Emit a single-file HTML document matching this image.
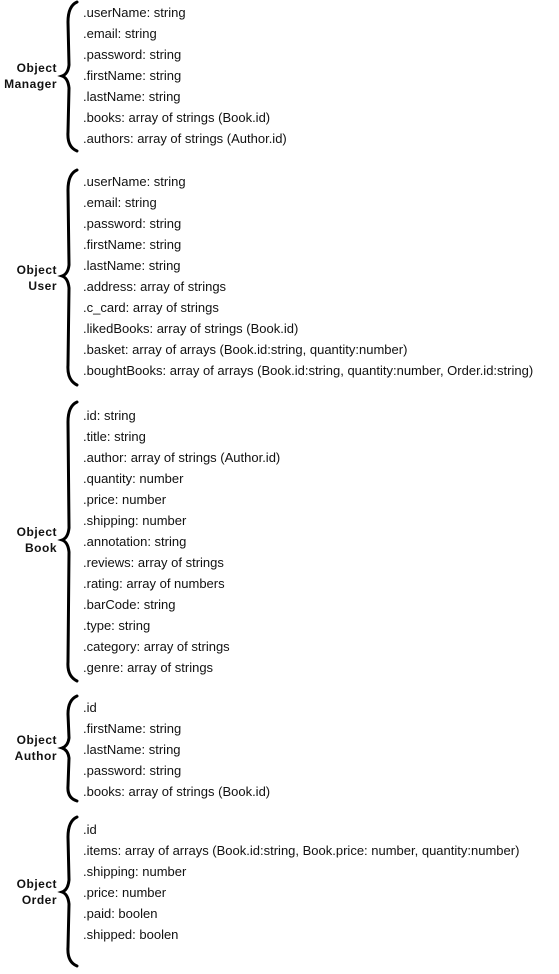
<!DOCTYPE html>
<html><head><style>
body{margin:0;background:#fff;width:559px;height:969px;overflow:hidden}
svg text{font-family:"Liberation Sans",sans-serif;font-size:13px;fill:#111}
.l{font-weight:bold;text-anchor:end;letter-spacing:0.5px;font-size:12px}
</style></head><body>
<svg width="559" height="969" xmlns="http://www.w3.org/2000/svg">
<g fill="none" stroke="#000" stroke-width="3" stroke-linecap="round">
<path d="M77,2 Q68,6 68,22 L69,65 Q68,74 62,76 Q68,78 69,88 L68,132 Q67,147 77,151"/>
<path d="M77,170 Q68,174 68,190 L69,265 Q68,274 62,276 Q68,278 69,288 L68,365 Q67,380 77,385"/>
<path d="M77,402 Q68,406 68,422 L69,528 Q68,538 62,540 Q68,542 69,552 L68,662 Q67,676 77,681"/>
<path d="M77,696 Q68,700 68,714 L69,738 Q68,746 62,748 Q68,750 69,758 L68,786 Q67,798 77,801"/>
<path d="M77,817 Q68,821 68,837 L69,880 Q68,890 62,892 Q68,894 69,904 L68,947 Q67,962 77,966"/>
</g>
<text class="l" x="57" y="72">Object</text><text class="l" x="57" y="88">Manager</text>
<text class="l" x="57" y="274">Object</text><text class="l" x="57" y="290">User</text>
<text class="l" x="57" y="536">Object</text><text class="l" x="57" y="552">Book</text>
<text class="l" x="57" y="744">Object</text><text class="l" x="57" y="760">Author</text>
<text class="l" x="57" y="888">Object</text><text class="l" x="57" y="904">Order</text>
<g>
<text x="83" y="17">.userName: string</text>
<text x="83" y="38">.email: string</text>
<text x="83" y="59">.password: string</text>
<text x="83" y="80">.firstName: string</text>
<text x="83" y="101">.lastName: string</text>
<text x="83" y="122">.books: array of strings (Book.id)</text>
<text x="83" y="143">.authors: array of strings (Author.id)</text>

<text x="83" y="186">.userName: string</text>
<text x="83" y="207">.email: string</text>
<text x="83" y="228">.password: string</text>
<text x="83" y="249">.firstName: string</text>
<text x="83" y="270">.lastName: string</text>
<text x="83" y="291">.address: array of strings</text>
<text x="83" y="312">.c_card: array of strings</text>
<text x="83" y="333">.likedBooks: array of strings (Book.id)</text>
<text x="83" y="354">.basket: array of arrays (Book.id:string, quantity:number)</text>
<text x="83" y="375">.boughtBooks: array of arrays (Book.id:string, quantity:number, Order.id:string)</text>

<text x="83" y="420">.id: string</text>
<text x="83" y="441">.title: string</text>
<text x="83" y="462">.author: array of strings (Author.id)</text>
<text x="83" y="483">.quantity: number</text>
<text x="83" y="504">.price: number</text>
<text x="83" y="525">.shipping: number</text>
<text x="83" y="546">.annotation: string</text>
<text x="83" y="567">.reviews: array of strings</text>
<text x="83" y="588">.rating: array of numbers</text>
<text x="83" y="609">.barCode: string</text>
<text x="83" y="630">.type: string</text>
<text x="83" y="651">.category: array of strings</text>
<text x="83" y="672">.genre: array of strings</text>

<text x="83" y="712">.id</text>
<text x="83" y="733">.firstName: string</text>
<text x="83" y="754">.lastName: string</text>
<text x="83" y="775">.password: string</text>
<text x="83" y="796">.books: array of strings (Book.id)</text>

<text x="83" y="834">.id</text>
<text x="83" y="855">.items: array of arrays (Book.id:string, Book.price: number, quantity:number)</text>
<text x="83" y="876">.shipping: number</text>
<text x="83" y="897">.price: number</text>
<text x="83" y="918">.paid: boolen</text>
<text x="83" y="939">.shipped: boolen</text>
</g>
</svg>
</body></html>
